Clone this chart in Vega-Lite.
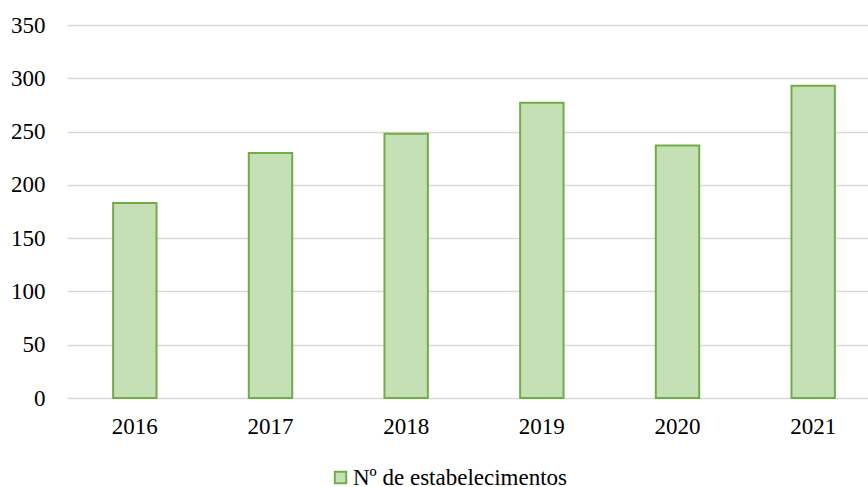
{
  "$schema": "https://vega.github.io/schema/vega-lite/v6.json",
  "autosize": "none",
  "padding": {"left": 67, "top": 25, "right": 0, "bottom": 89},
  "width": 814,
  "height": 373,
  "background": "white",
  "config": {
    "view": {"stroke": null},
    "font": "Liberation Serif"
  },
  "data": {
    "values": [
      {"ano": "2016", "valor": 183, "serie": "Nº de estabelecimentos"},
      {"ano": "2017", "valor": 230, "serie": "Nº de estabelecimentos"},
      {"ano": "2018", "valor": 248, "serie": "Nº de estabelecimentos"},
      {"ano": "2019", "valor": 277, "serie": "Nº de estabelecimentos"},
      {"ano": "2020", "valor": 237, "serie": "Nº de estabelecimentos"},
      {"ano": "2021", "valor": 293, "serie": "Nº de estabelecimentos"}
    ]
  },
  "mark": {"type": "bar", "stroke": "#70AD47", "strokeWidth": 2, "fill": "#C5E0B4"},
  "encoding": {
    "x": {
      "field": "ano", "type": "nominal",
      "scale": {"paddingInner": 0.68, "paddingOuter": 0.34},
      "axis": {
        "title": null, "labelAngle": 0, "domain": false, "ticks": false,
        "labelFont": "Liberation Serif", "labelFontSize": 23, "labelColor": "#000000",
        "labelPadding": 17
      }
    },
    "y": {
      "field": "valor", "type": "quantitative",
      "scale": {"domain": [0, 350]},
      "axis": {
        "title": null, "values": [0, 50, 100, 150, 200, 250, 300, 350],
        "domain": false, "ticks": false,
        "grid": true, "gridColor": "#D9D9D9", "gridWidth": 1.5,
        "labelFont": "Liberation Serif", "labelFontSize": 23, "labelColor": "#000000",
        "labelPadding": 22
      }
    },
    "color": {
      "field": "serie", "type": "nominal",
      "scale": {"range": ["#C5E0B4"]},
      "legend": {
        "title": null, "orient": "none", "legendX": 262, "legendY": 441,
        "symbolType": "square", "symbolSize": 130, "symbolStrokeColor": "#70AD47",
        "symbolStrokeWidth": 2, "symbolFillColor": "#C5E0B4",
        "labelFont": "Liberation Serif", "labelFontSize": 23, "labelColor": "#000000",
        "labelOffset": 1, "labelLimit": 400
      }
    }
  }
}
